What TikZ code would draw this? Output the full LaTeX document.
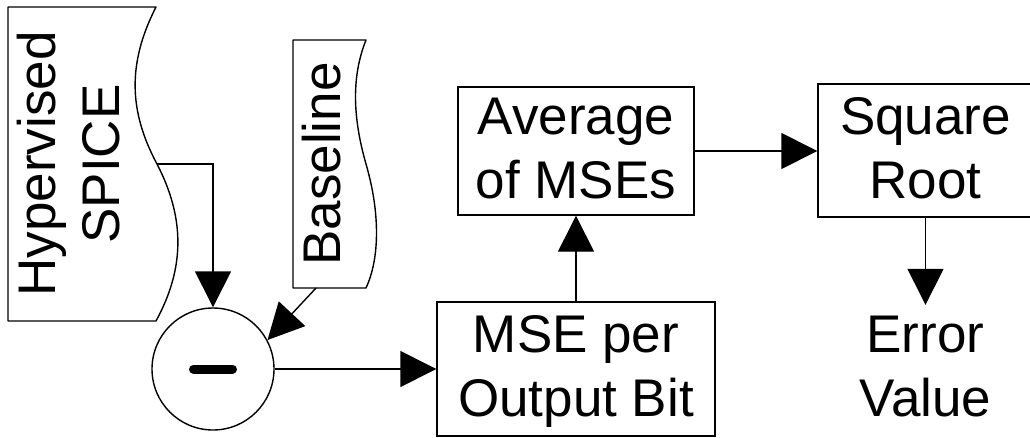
\documentclass[tikz,border=0pt]{standalone}
\usepackage{fontspec}
\setmainfont{Liberation Sans}
\usetikzlibrary{arrows.meta}
% one line of label text: fixed ascent/descent so boxes centre evenly
\newcommand\linestrut{\rule[-16.5pt]{0pt}{64pt}}
\begin{document}
\begin{tikzpicture}[x=1pt,y=-1pt,
  lbl/.style={font=\fontsize{53}{64}\selectfont, align=center, inner sep=0pt},
  procbox/.style={draw, line width=1.4pt, lbl},
  flow/.style={line width=1.4pt, -{Triangle[length=36pt,width=36pt]}},
  docshape/.style={draw, line width=1.4pt, line join=round}]
\useasboundingbox (0,0) rectangle (1030,437);
\clip (0,0) rectangle (1030,437);

% document-shaped inputs (wavy right edge)
\draw[docshape] (8,7) -- (156,7)
  .. controls (128,62) and (128,110) .. (157,164)
  .. controls (185,218) and (185,268) .. (156,321)
  -- (8,321) -- cycle;
\node[lbl, rotate=90] (hyptxt) at (72,164) {\linestrut Hypervised\\\linestrut SPICE};
\coordinate (hypout) at (157,164);

\draw[docshape] (293,40) -- (366,40)
  .. controls (352,75) and (352,115) .. (366,164)
  .. controls (380,212) and (380,258) .. (366,288)
  -- (293,288) -- cycle;
\node[lbl, rotate=90] (basetxt) at (324.5,164) {\linestrut Baseline};
\coordinate (baseout) at (316,288);

% subtraction junction
\node[draw, circle, line width=1.4pt, minimum size=122pt, inner sep=0pt] (sub) at (213,369) {};
\draw[line width=9pt, line cap=round] ([xshift=-19.5pt]sub.center) -- ([xshift=19.5pt]sub.center);

% processing steps
\node[procbox, minimum width=278pt, minimum height=134pt] (mse) at (576,369)
  {\linestrut MSE per\\\linestrut Output Bit};
\node[procbox, minimum width=236pt, minimum height=124pt] (avg) at (576,151)
  {\linestrut Average\\\linestrut of MSEs};
\node[procbox, minimum width=215pt, minimum height=133pt] (sr) at (925.5,150.5)
  {\linestrut Square\\\linestrut Root};
\node[lbl] (err) at (925.5,369) {\linestrut Error\\\linestrut Value};

% connectors
\draw[flow] (hypout) -| (sub.north);
\draw[flow] (baseout) -- (sub.28.6);
\draw[flow] (sub.east) -- (mse.west);
\draw[flow] (mse.north) -- (avg.south);
\draw[flow] (avg.east) -- (avg.east -| sr.west);
\draw[flow] (sr.south) -- (err.north);
\end{tikzpicture}
\end{document}
